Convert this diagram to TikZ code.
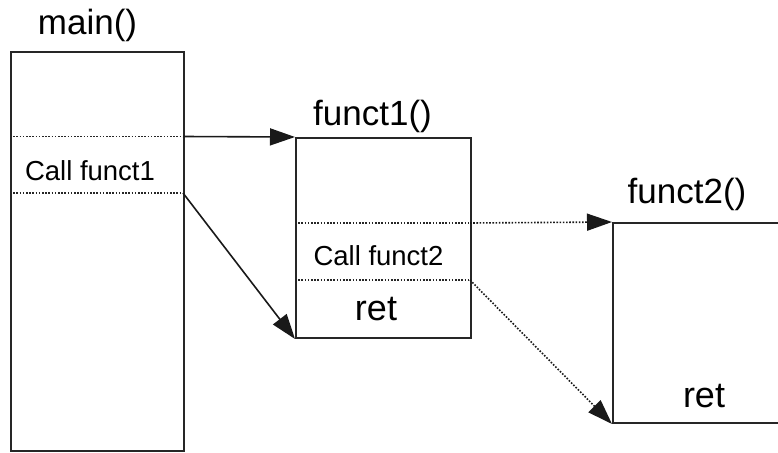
\documentclass[tikz,border=0pt]{standalone}
\usepackage{fontspec}
\setmainfont{Liberation Sans}
\usetikzlibrary{arrows.meta}
\begin{document}
\begin{tikzpicture}[x=1pt,y=-1pt,
  box/.style={draw=black!85, line width=2pt, inner sep=0pt, anchor=north west},
  sep/.style={draw=black!85, line width=1.6pt, dash pattern=on 1.6pt off 1.6pt},
  call/.style={draw=black!90, line width=1.6pt, -{Triangle[length=25pt,width=17pt]}},
  dcall/.style={call, dash pattern=on 1.6pt off 1.6pt},
  title/.style={anchor=base, inner sep=0pt, font=\fontsize{35}{40}\selectfont},
  small/.style={anchor=base, inner sep=0pt, font=\fontsize{27.5}{32}\selectfont},
  big/.style={anchor=base, inner sep=0pt, font=\fontsize{36}{40}\selectfont}]
\useasboundingbox (0,0) rectangle (778,452);
\clip (0,0) rectangle (778,452);
% boxes
\node[box, minimum width=173pt, minimum height=399pt] (main) at (10,51) {};
\node[box, minimum width=175pt, minimum height=200pt] (f1) at (295,137) {};
\node[box, minimum width=200pt, minimum height=200pt] (f2) at (612,222) {};
% anchor coordinates on box edges
\coordinate (m1) at (183,136.5);
\coordinate (m2) at (183,193);
\coordinate (m1w) at (10,136.5);
\coordinate (m2w) at (10,193);
\coordinate (a1) at (470,223);
\coordinate (a2) at (470,280);
\coordinate (a1w) at (295,223);
\coordinate (a2w) at (295,280);
% separators
\draw[sep] (m1w) -- (m1);
\draw[sep] (m2w) -- (m2);
\draw[sep] (a1w) -- (a1);
\draw[sep] (a2w) -- (a2);
% labels
\node[title] (tmain) at (87.5,35) {main()};
\node[title] (tf1) at (372.5,125) {funct1()};
\node[title] (tf2) at (687,203) {funct2()};
\node[small] (c1) at (90,180) {Call funct1};
\node[small] (c2) at (378.5,265) {Call funct2};
\node[big] (r1) at (376,320) {ret};
\node[big] (r2) at (704,407) {ret};
% connectors
\draw[call] (m1) -- (f1.north west);
\draw[call] (m2) -- (f1.south west);
\draw[dcall] (a1) -- (f2.north west);
\draw[dcall] (a2) -- (f2.south west);
\end{tikzpicture}
\end{document}
